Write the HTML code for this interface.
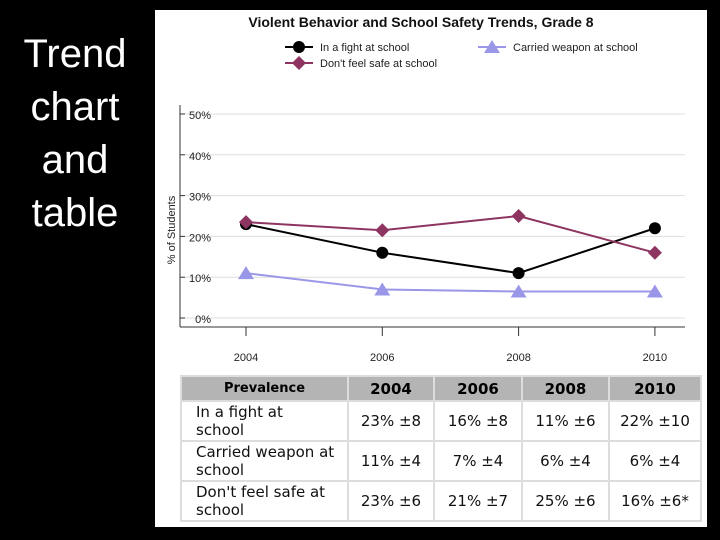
<!DOCTYPE html>
<html><head><meta charset="utf-8"><style>
body{margin:0;width:720px;height:540px;background:#000;position:relative;overflow:hidden;font-family:"Liberation Sans",sans-serif}
#side{position:absolute;left:0;top:28px;width:150px;text-align:center;color:#fff;font-size:40px;line-height:53px}
#panel{position:absolute;left:155px;top:10px;width:552px;height:517px;background:#fff}
table{position:absolute;left:180px;top:375px;border-collapse:collapse;font-family:"DejaVu Sans",sans-serif}
td,th{border:2px solid #ddd;padding:0}
th{background:#b4b4b4;height:23px;font-size:15px}
td{height:38px;font-size:15px;text-align:center;color:#111}
td.l{text-align:left;padding-left:14px;line-height:18px}
</style></head><body>
<div id="side">Trend<br>chart<br>and<br>table</div>
<div id="panel"></div>
<svg id="chart" width="720" height="370" style="position:absolute;left:0;top:0"></svg>
<table>
<tr><th style="width:165px;font-size:13px">Prevalence</th><th style="width:84px">2004</th><th style="width:86px">2006</th><th style="width:85px">2008</th><th style="width:90px">2010</th></tr>
<tr><td class="l">In a fight at<br>school</td><td>23% ±8</td><td>16% ±8</td><td>11% ±6</td><td>22% ±10</td></tr>
<tr><td class="l">Carried weapon at<br>school</td><td>11% ±4</td><td>7% ±4</td><td>6% ±4</td><td>6% ±4</td></tr>
<tr><td class="l">Don't feel safe at<br>school</td><td>23% ±6</td><td>21% ±7</td><td>25% ±6</td><td>16% ±6*</td></tr>
</table>
<script>
const years=["2004","2006","2008","2010"];
const fight=[23,16,11,22];
const weapon=[11,7,6.5,6.5];
const unsafe=[23.5,21.5,25,16];
const yTicks=[0,10,20,30,40,50];
const svg=document.getElementById('chart');
const NS='http://www.w3.org/2000/svg';
function mk(t,a,p){const e=document.createElementNS(NS,t);for(const k in a)e.setAttribute(k,a[k]);(p||svg).appendChild(e);return e;}
const x=i=>246+i*136.3;
const y=v=>318-v*4.08;
let t=mk('text',{x:421,y:27,'text-anchor':'middle','font-size':14,'font-weight':'bold',fill:'#111'});t.textContent='Violent Behavior and School Safety Trends, Grade 8';

yTicks.forEach(v=>{
 const g=mk('line',{x1:185,x2:685,y1:y(v),y2:y(v),stroke:'#ddd','stroke-width':1});
 
 mk('line',{x1:180,x2:185,y1:y(v),y2:y(v),stroke:'#333'});
 const l=mk('text',{x:211,y:y(v)+5,'text-anchor':'end','font-size':11,fill:'#222'});l.textContent=v+'%';
 
});
mk('line',{x1:180,x2:180,y1:105,y2:327,stroke:'#333'});
const xa=mk('line',{x1:180,x2:685,y1:327,y2:327,stroke:'#333'});

years.forEach((yr,i)=>{
 mk('line',{x1:x(i),x2:x(i),y1:327,y2:336,stroke:'#333'});
 const l=mk('text',{x:x(i),y:361,'text-anchor':'middle','font-size':11,fill:'#222'});l.textContent=yr;
 
});
const yt=mk('text',{x:0,y:0,'font-size':11,'text-anchor':'middle',fill:'#222',transform:'translate(175,230) rotate(-90)'});yt.textContent='% of Students';

function marker(kind,cx,cy,col){
 if(kind==='c')return mk('circle',{cx,cy,r:6,fill:col});
 if(kind==='d')return mk('polygon',{points:`${cx},${cy-7} ${cx+7},${cy} ${cx},${cy+7} ${cx-7},${cy}`,fill:col});
 return mk('polygon',{points:`${cx},${cy-7} ${cx+8},${cy+6} ${cx-8},${cy+6}`,fill:col});
}
function series(vals,col,kind,name){
 const p=mk('polyline',{points:vals.map((v,i)=>x(i)+','+y(v)).join(' '),fill:'none',stroke:col,'stroke-width':2});
 
 vals.forEach((v,i)=>{const m=marker(kind,x(i),y(v),col);
  });
}
series(weapon,'#9b97e8','t','weapon');
series(fight,'#000','c','fight');
series(unsafe,'#8e3460','d','unsafe');
function legend(lx,ly,col,kind,label,name){
 mk('line',{x1:lx,x2:lx+28,y1:ly,y2:ly,stroke:col,'stroke-width':2});
 const m=marker(kind,lx+14,ly,col);
 const l=mk('text',{x:lx+35,y:ly+4,'font-size':11,fill:'#222'});l.textContent=label;
 
}
legend(285,47,'#000','c','In a fight at school','legend-fight');
legend(478,47,'#9b97e8','t','Carried weapon at school','legend-weapon');
legend(285,63,'#8e3460','d',"Don't feel safe at school",'legend-unsafe');
</script>
</body></html>
